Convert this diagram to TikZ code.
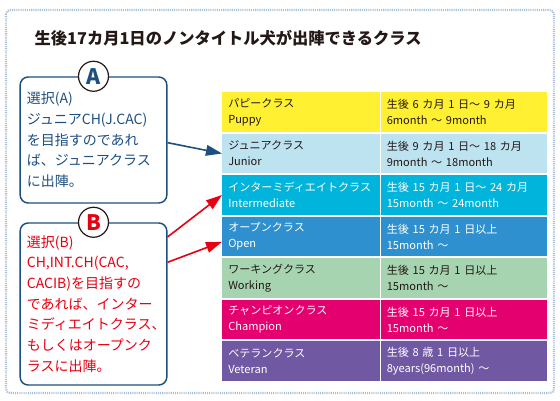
\documentclass[tikz,border=0pt]{standalone}
\usepackage{fontspec}
\setmainfont{Noto Sans CJK JP}
\usetikzlibrary{arrows.meta}
\definecolor{navy}{RGB}{29,79,128}
\definecolor{jpred}{RGB}{230,0,18}
\definecolor{ink}{RGB}{35,24,21}
\definecolor{frame}{RGB}{169,191,217}
\definecolor{cPuppy}{RGB}{255,240,50}
\definecolor{cJunior}{RGB}{189,226,240}
\definecolor{cInter}{RGB}{0,180,220}
\definecolor{cOpen}{RGB}{47,144,207}
\definecolor{cWorking}{RGB}{166,212,176}
\definecolor{cChampion}{RGB}{228,0,110}
\definecolor{cVeteran}{RGB}{112,88,163}

\begin{document}
\begin{tikzpicture}[
x=0.75pt, y=-0.75pt,
choice/.style = {
	draw=navy,
	line width=1.1pt,
	rounded corners=6pt,
	minimum width=110pt,
	text width=100pt,
	align=left,
	font=\fontsize{10.5pt}{15.5pt}\selectfont
	},
badge/.style = {
	circle,
	draw=ink,
	fill=white,
	line width=0.9pt,
	minimum size=22.5pt,
	inner sep=0pt,
	font=\bfseries\fontsize{16pt}{16pt}\selectfont
	},
cellL/.style = {
	anchor=north west,
	minimum width=118.5pt,
	minimum height=29.6pt,
	text width=109.5pt,
	inner xsep=4.5pt,
	inner ysep=0pt,
	align=left,
	font=\fontsize{8.3pt}{12pt}\selectfont
	},
cellR/.style = {
	cellL,
	minimum width=124.5pt,
	text width=115.5pt
	},
navyArr/.style = {
	-{Triangle[length=12pt,width=8pt]},
	line width=1.2pt,
	navy
	},
redArr/.style = {
	-{Triangle[length=12pt,width=8pt]},
	line width=1.2pt,
	jpred
	}
]
\useasboundingbox (0,0) rectangle (560,400);
\draw [frame, line width=1.6pt, dash pattern=on 0.8pt off 0.8pt, rounded corners=3pt] (6,10) rectangle (554,393);

\node [anchor=west, text=ink, font=\bfseries\fontsize{12.2pt}{14pt}\selectfont] (title) at (30,38) {生後17カ月1日のノンタイトル犬が出陣できるクラス};

% CHOICE BOXES
\node [choice, text=navy, minimum height=94.5pt] (boxA) at (93.5,140) {選択(A)\\ジュニアCH(J.CAC)\\を目指すのであれ\\ば、ジュニアクラス\\に出陣。};
\node [badge, text=navy] (labA) at (boxA.north) {A};
\node [choice, text=jpred, minimum height=121.5pt] (boxB) at (93.5,304) {選択(B)\\CH,INT.CH(CAC,\\CACIB)を目指すの\\であれば、インター\\ミディエイトクラス、\\もしくはオープンク\\ラスに出陣。};
\node [badge, text=jpred] (labB) at (boxB.north) {B};

% CLASS ROWS
\node [cellL, fill=cPuppy, text=ink] (puppyL) at (222,92) {パピークラス\\Puppy};
\node [cellR, fill=cPuppy, text=ink] (puppyR) at (puppyL.north east) {生後 6 カ月 1 日～ 9 カ月\\6month ～ 9month};
\node [cellL, fill=cJunior, text=ink] (juniorL) at (222,133.5) {ジュニアクラス\\Junior};
\node [cellR, fill=cJunior, text=ink] (juniorR) at (juniorL.north east) {生後 9 カ月 1 日～ 18 カ月\\9month ～ 18month};
\node [cellL, fill=cInter, text=white] (interL) at (222,175) {インターミディエイトクラス\\Intermediate};
\node [cellR, fill=cInter, text=white] (interR) at (interL.north east) {生後 15 カ月 1 日～ 24 カ月\\15month ～ 24month};
\node [cellL, fill=cOpen, text=white] (openL) at (222,216.5) {オープンクラス\\Open};
\node [cellR, fill=cOpen, text=white] (openR) at (openL.north east) {生後 15 カ月 1 日以上\\15month ～};
\node [cellL, fill=cWorking, text=ink] (workingL) at (222,258) {ワーキングクラス\\Working};
\node [cellR, fill=cWorking, text=ink] (workingR) at (workingL.north east) {生後 15 カ月 1 日以上\\15month ～};
\node [cellL, fill=cChampion, text=white] (championL) at (222,299.5) {チャンピオンクラス\\Champion};
\node [cellR, fill=cChampion, text=white] (championR) at (championL.north east) {生後 15 カ月 1 日以上\\15month ～};
\node [cellL, fill=cVeteran, text=white] (veteranL) at (222,341) {ベテランクラス\\Veteran};
\node [cellR, fill=cVeteran, text=white] (veteranR) at (veteranL.north east) {生後 8 歳 1 日以上\\8years(96month) ～};
\draw [white, line width=0.8pt, dash pattern=on 2.5pt off 1.5pt] (puppyR.north west) -- (veteranR.south west);

% ARROWS
\draw [navyArr] ([yshift=-2pt]boxA.east) -- (juniorL.west);
\draw [redArr] ([yshift=-11pt]boxB.north east) -- (interL.west);
\draw [redArr] ([yshift=-30pt]boxB.north east) -- ([yshift=-4pt]openL.west);
\end{tikzpicture}
\end{document}
